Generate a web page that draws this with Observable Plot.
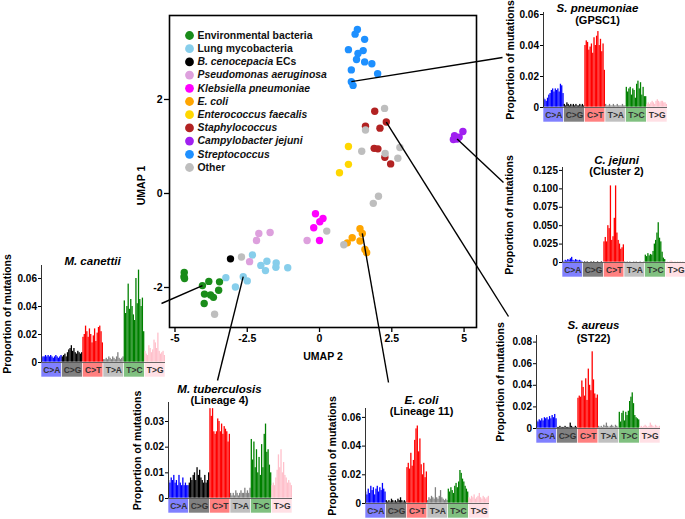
<!DOCTYPE html>
<html>
<head>
<meta charset="utf-8">
<script src="https://cdn.jsdelivr.net/npm/d3@7"></script>
<script src="https://cdn.jsdelivr.net/npm/@observablehq/plot@0.6"></script>
<style>
  html, body { margin: 0; padding: 0; background: white; }
  #fig { position: relative; width: 685px; height: 519px; overflow: hidden; background: white; }
  #fig svg { position: absolute; max-width: none; }
</style>
</head>
<body>
<div id="fig"></div>
<script>
// ---------------- DATA ----------------
const categories = ["Environmental bacteria", "Lung mycobacteria", "B. cenocepacia ECs", "Pseudomonas aeruginosa",
  "Klebsiella pneumoniae", "E. coli", "Enterococcus faecalis", "Staphylococcus", "Campylobacter jejuni", "Streptococcus", "Other"];
const categoryColors = ["#1a8c1a", "#87ceeb", "#000000", "#dda0dd", "#ff00ff", "#ffa500", "#ffd700", "#b22222", "#a020f0", "#1e90ff", "#bebebe"];
const italicCategories = ["Pseudomonas aeruginosa", "Klebsiella pneumoniae", "E. coli", "Enterococcus faecalis", "Staphylococcus", "Campylobacter jejuni", "Streptococcus"];

// UMAP coordinates [UMAP 2, UMAP 1]
const environmental = [[-4.68,-1.68],[-4.69,-1.77],[-4.67,-1.81],[-4.05,-1.96],[-3.83,-1.87],[-3.46,-1.88],[-3.49,-2.06],[-3.98,-2.14],[-3.77,-2.16],[-3.67,-2.21],[-3.99,-2.34]];
const lungMyco = [[-2.32,-1.31],[-1.82,-1.44],[-1.50,-1.48],[-2.03,-1.53],[-1.87,-1.64],[-1.51,-1.57],[-1.10,-1.58],[-3.24,-1.79],[-2.91,-1.99],[-2.64,-1.77],[-2.50,-1.86]];
const bCenocepacia = [[-3.08,-1.39]];
const pseudomonas = [[-2.10,-0.85],[-1.71,-0.83],[-2.18,-1.00],[-0.43,-1.00],[-2.42,-1.45]];
const klebsiella = [[-0.14,-0.43],[0.12,-0.53],[0.01,-0.60],[-0.20,-0.73],[0.00,-1.00]];
const eColi = [[1.40,-0.75],[1.48,-0.85],[1.13,-0.94],[1.40,-1.01],[0.96,-1.05],[1.57,-1.19],[1.63,-1.26]];
const enterococcus = [[1.00,1.00],[1.00,0.62],[0.69,0.44]];
const staphylococcus = [[1.91,1.75],[2.31,1.52],[1.59,1.43],[2.09,1.39],[1.89,0.96],[2.02,0.95],[2.26,0.77],[2.46,0.63]];
const campylobacter = [[4.67,1.23],[4.96,1.32],[4.76,1.16],[4.63,1.15],[4.83,1.20]];
const streptococcus = [[1.31,3.49],[1.23,3.39],[1.56,3.28],[1.00,3.06],[1.51,3.04],[1.33,2.98],[1.28,2.85],[1.56,2.80],[1.81,2.76],[1.10,2.63],[2.01,2.55],[1.10,2.38],[1.16,2.30]];
const other = [[2.25,1.81],[1.59,1.35],[1.46,0.90],[2.27,0.85],[2.78,0.98],[2.71,0.75],[2.04,-0.06],[1.86,-0.21],[0.25,-0.80],[0.84,-1.09],[-2.70,-1.35],[-3.63,-2.57]];
const pointSets = [environmental, lungMyco, bCenocepacia, pseudomonas, klebsiella, eColi, enterococcus, staphylococcus, campylobacter, streptococcus, other];

const umapXTicks = [-5, -2.5, 0, 2.5, 5];
const umapYTicks = [-2, 0, 2];

// Mutational spectra: 96 contexts, 16 per mutation type
const mutationTypes = ["C>A", "C>G", "C>T", "T>A", "T>C", "T>G"];
const barColors = ["#0000ff", "#000000", "#ff0000", "#808080", "#008000", "#ffc0cb"];
const boxColors = ["#8080ff", "#808080", "#ff8080", "#c0c0c0", "#80c080", "#ffe0e5"];

const sPneumoniae = [
  0.006,0.005,0.004,0.006,0.008,0.009,0.011,0.012,0.010,0.012,0.011,0.012,0.010,0.015,0.014,0.009,
  0.002,0.001,0.003,0.002,0.001,0.002,0.001,0.002,0.001,0.002,0.001,0.001,0.002,0.001,0.002,0.001,
  0.040,0.043,0.042,0.037,0.039,0.041,0.035,0.045,0.040,0.046,0.049,0.040,0.044,0.036,0.041,0.024,
  0.002,0.001,0.001,0.002,0.001,0.001,0.002,0.001,0.001,0.002,0.001,0.001,0.001,0.002,0.001,0.001,
  0.013,0.010,0.012,0.013,0.008,0.012,0.011,0.006,0.015,0.017,0.012,0.016,0.008,0.013,0.007,0.007,
  0.002,0.003,0.002,0.003,0.004,0.003,0.002,0.004,0.005,0.004,0.003,0.004,0.004,0.003,0.003,0.002];
const cJejuni = [
  0.002,0.001,0.003,0.002,0.004,0.003,0.005,0.007,0.003,0.002,0.004,0.003,0.002,0.003,0.002,0.001,
  0.000,0.001,0.000,0.001,0.000,0.000,0.001,0.000,0.001,0.000,0.000,0.001,0.000,0.000,0.001,0.000,
  0.028,0.034,0.028,0.050,0.046,0.104,0.030,0.035,0.060,0.104,0.040,0.030,0.025,0.018,0.020,0.024,
  0.001,0.000,0.001,0.000,0.001,0.000,0.000,0.001,0.000,0.001,0.000,0.000,0.001,0.000,0.000,0.001,
  0.010,0.008,0.012,0.009,0.011,0.010,0.015,0.025,0.030,0.040,0.054,0.033,0.028,0.014,0.006,0.004,
  0.000,0.001,0.000,0.001,0.002,0.001,0.000,0.001,0.000,0.001,0.000,0.001,0.000,0.001,0.000,0.000];
const sAureus = [
  0.007,0.006,0.008,0.007,0.009,0.007,0.010,0.009,0.010,0.008,0.011,0.009,0.012,0.010,0.013,0.009,
  0.001,0.001,0.002,0.001,0.001,0.001,0.002,0.001,0.001,0.001,0.005,0.002,0.001,0.001,0.002,0.001,
  0.028,0.030,0.029,0.044,0.038,0.030,0.046,0.026,0.055,0.040,0.035,0.071,0.045,0.032,0.028,0.031,
  0.002,0.001,0.002,0.001,0.003,0.002,0.005,0.002,0.001,0.002,0.003,0.002,0.001,0.003,0.002,0.001,
  0.015,0.006,0.014,0.016,0.007,0.015,0.012,0.016,0.025,0.029,0.033,0.023,0.012,0.010,0.009,0.008,
  0.001,0.002,0.001,0.002,0.003,0.002,0.001,0.002,0.005,0.003,0.002,0.001,0.003,0.002,0.001,0.002];
const mCanettii = [
  0.003,0.004,0.004,0.005,0.004,0.005,0.004,0.005,0.004,0.003,0.004,0.005,0.004,0.003,0.004,0.005,
  0.004,0.005,0.006,0.004,0.007,0.009,0.010,0.012,0.008,0.010,0.007,0.006,0.008,0.007,0.006,0.007,
  0.018,0.020,0.026,0.022,0.018,0.024,0.020,0.014,0.019,0.024,0.015,0.021,0.025,0.026,0.022,0.014,
  0.002,0.002,0.003,0.002,0.004,0.003,0.002,0.004,0.003,0.002,0.004,0.007,0.003,0.002,0.003,0.004,
  0.044,0.035,0.040,0.056,0.038,0.045,0.040,0.034,0.030,0.060,0.042,0.066,0.045,0.040,0.046,0.022,
  0.008,0.006,0.005,0.012,0.010,0.007,0.009,0.016,0.014,0.010,0.021,0.008,0.006,0.007,0.008,0.005];
const mTuberculosis = [
  0.007,0.006,0.008,0.007,0.009,0.006,0.007,0.005,0.009,0.006,0.005,0.008,0.005,0.006,0.005,0.005,
  0.006,0.008,0.007,0.009,0.010,0.007,0.012,0.009,0.011,0.008,0.007,0.006,0.009,0.006,0.007,0.010,
  0.035,0.032,0.035,0.026,0.025,0.026,0.031,0.030,0.026,0.029,0.025,0.028,0.027,0.026,0.022,0.025,
  0.002,0.001,0.002,0.001,0.003,0.002,0.001,0.002,0.003,0.002,0.002,0.004,0.002,0.003,0.002,0.004,
  0.023,0.015,0.022,0.012,0.019,0.010,0.016,0.009,0.021,0.012,0.025,0.029,0.018,0.019,0.013,0.010,
  0.005,0.006,0.005,0.008,0.011,0.017,0.012,0.019,0.010,0.014,0.009,0.008,0.006,0.007,0.006,0.005];
const eColiL11 = [
  0.008,0.006,0.010,0.007,0.012,0.009,0.011,0.006,0.010,0.012,0.008,0.011,0.009,0.014,0.010,0.008,
  0.002,0.001,0.002,0.001,0.003,0.002,0.001,0.002,0.001,0.003,0.002,0.004,0.002,0.001,0.002,0.001,
  0.025,0.028,0.024,0.035,0.026,0.030,0.044,0.052,0.054,0.036,0.045,0.027,0.020,0.028,0.018,0.022,
  0.002,0.004,0.003,0.005,0.004,0.003,0.011,0.004,0.003,0.005,0.009,0.004,0.003,0.002,0.003,0.002,
  0.010,0.008,0.011,0.009,0.007,0.012,0.014,0.011,0.015,0.023,0.021,0.017,0.015,0.012,0.010,0.008,
  0.004,0.003,0.005,0.004,0.006,0.003,0.004,0.005,0.007,0.004,0.003,0.005,0.004,0.003,0.004,0.005];

const insetTitles = [["S. pneumoniae", "(GPSC1)"], ["C. jejuni", "(Cluster 2)"], ["S. aureus", "(ST22)"], ["M. canettii", ""], ["M. tuberculosis", "(Lineage 4)"], ["E. coli", "(Lineage 11)"]];
const insetTicks = [[0, 0.02, 0.04, 0.06], [0, 0.025, 0.05, 0.075, 0.1, 0.125], [0, 0.02, 0.04, 0.06, 0.08], [0, 0.02, 0.04, 0.06], [0, 0.01, 0.02, 0.03], [0, 0.02, 0.04, 0.06]];
const insetDecimals = [2, 3, 2, 2, 2, 2];
const insetValues = [sPneumoniae, cJejuni, sAureus, mCanettii, mTuberculosis, eColiL11];
const insetYMax = [0.0613, 0.129, 0.0861, 0.0693, 0.0374, 0.0662];
const yLabel = "Proportion of mutations";

// ---------------- LAYOUT (pixels) ----------------
const FONT = '"Liberation Sans", Arial, Helvetica, sans-serif';
const fig = document.getElementById("fig");

const mainFrame = {left: 169, right: 476, top: 15, bottom: 327};
const mainMargins = {left: 45, right: 10, top: 15, bottom: 40};
const xDomain = [-5.19, 5.43], yDomain = [-2.851, 3.787];

// inset layout: axis x, baseline y, frame height, title offsets, y-label offset
const insetLayout = [
  {ax: 543, y0: 107, h: 95, tdx: -8, t1: -4, t2: 8, ldx: -33},
  {ax: 562, y0: 262, h: 95, tdx: -8, t1: -7, t2: 4, ldx: -53},
  {ax: 536, y0: 428, h: 93, tdx: -5, t1: -10, t2: 3, ldx: -36},
  {ax: 41, y0: 362, h: 97, tdx: -11, t1: -4, t2: 0, ldx: -34},
  {ax: 168, y0: 498, h: 96, tdx: -11, t1: -13, t2: -2, ldx: -31},
  {ax: 365, y0: 503, h: 95, tdx: -6, t1: -8, t2: 3, ldx: -33}
];
const insetW = 124;

// connectors: [category index, point index] -> end pixel
const connectors = [
  {cat: 9, idx: 11, end: [502, 57]},
  {cat: 8, idx: 2, end: [503, 182]},
  {cat: 7, idx: 1, end: [508, 316]},
  {cat: 5, idx: 1, end: [388, 382]},
  {cat: 1, idx: 9, end: [217, 380]},
  {cat: 0, idx: 3, end: [161, 303]}
];

// ---------------- MAIN UMAP PLOT ----------------
const points = [];
pointSets.forEach((set, ci) => set.forEach(([x, y]) => points.push({x, y, color: categoryColors[ci]})));

const fw = mainFrame.right - mainFrame.left, fh = mainFrame.bottom - mainFrame.top;
const pxX = fw / (xDomain[1] - xDomain[0]), pxY = fh / (yDomain[1] - yDomain[0]);
const legendRows = categories.map((label, i) => ({
  label, color: categoryColors[i], italic: italicCategories.includes(label),
  y: yDomain[1] - (20 + i * 13.2) / pxY
}));
const legendDotX = xDomain[0] + 20 / pxX, legendTextX = xDomain[0] + 28 / pxX;
// axis title anchors (from pixel offsets relative to the frame)
const yTitleX = xDomain[0] - 28 / pxX, yTitleY = yDomain[1] - (185 - mainFrame.top) / pxY;

const main = Plot.plot({
  width: mainMargins.left + fw + mainMargins.right,
  height: mainMargins.top + fh + mainMargins.bottom,
  marginLeft: mainMargins.left, marginRight: mainMargins.right, marginTop: mainMargins.top, marginBottom: mainMargins.bottom,
  x: {domain: xDomain},
  y: {domain: yDomain},
  style: {background: "transparent", fontFamily: FONT, fontSize: "11px", color: "black", overflow: "visible"},
  marks: [
    Plot.axisX({ticks: umapXTicks, tickFormat: d => String(d), tickSize: 5, tickPadding: 2, fontWeight: "bold", fontSize: 10.5, label: null, strokeWidth: 1.3}),
    Plot.axisY({ticks: umapYTicks, tickFormat: d => String(d), tickSize: 5, tickPadding: 2, fontWeight: "bold", fontSize: 10.5, label: null, strokeWidth: 1.3}),
    Plot.dot(points, {x: "x", y: "y", r: 3.7, fill: "color", stroke: null}),
    Plot.frame({stroke: "black", strokeWidth: 1.6}),
    Plot.dot(legendRows, {x: () => legendDotX, y: "y", r: 4.4, fill: "color"}),
    Plot.text(legendRows.filter(d => !d.italic), {x: () => legendTextX, y: "y", text: "label", textAnchor: "start", fontSize: 10.4, fontWeight: "bold", fill: "#111"}),
    Plot.text(legendRows.filter(d => d.italic), {x: () => legendTextX, y: "y", text: "label", textAnchor: "start", fontSize: 10.4, fontWeight: "bold", fontStyle: "italic", fill: "#111"}),
    Plot.text(["UMAP 2"], {frameAnchor: "bottom", dy: 29, lineAnchor: "middle", textAnchor: "middle", fontSize: 10.5, fontWeight: "bold"}),
    Plot.text(["UMAP 1"], {x: () => yTitleX, y: () => yTitleY, rotate: -90, textAnchor: "middle", lineAnchor: "middle", fontSize: 10.5, fontWeight: "bold"})
  ]
});
main.style.left = (mainFrame.left - mainMargins.left) + "px";
main.style.top = (mainFrame.top - mainMargins.top) + "px";
d3.select(main).selectAll("text").filter(function () { return this.textContent === "B. cenocepacia ECs"; })
  .each(function () {
    const t = d3.select(this); t.text(null);
    t.append("tspan").attr("font-style", "italic").text("B. cenocepacia");
    t.append("tspan").attr("font-style", "normal").text(" ECs");
  });
fig.appendChild(main);

// ---------------- INSETS ----------------
function makeInset(k) {
  const L = insetLayout[k], values = insetValues[k], top = insetYMax[k];
  const m = {left: 62, right: 4, top: 32, bottom: 18};
  const bars = values.map((v, i) => ({i, v, color: barColors[Math.floor(i / 16)]}));
  const pxPerUnit = L.h / top;
  const boxH = 15 / pxPerUnit;
  const groups = mutationTypes.map((t, g) => ({t, g, fill: boxColors[g]}));
  const dec = insetDecimals[k];
  const [t1, t2] = insetTitles[k];
  const p = Plot.plot({
    width: m.left + insetW + m.right, height: m.top + L.h + m.bottom,
    marginLeft: m.left, marginRight: m.right, marginTop: m.top, marginBottom: m.bottom,
    x: {domain: [0, 96], axis: null},
    y: {domain: [0, top], axis: null},
    style: {background: "transparent", fontFamily: FONT, fontSize: "10px", color: "black", overflow: "visible"},
    marks: [
      Plot.rect(bars, {x1: "i", x2: d => d.i + 1, y1: () => 0, y2: "v", fill: "color"}),
      Plot.rect(groups, {x1: d => d.g * 16, x2: d => d.g * 16 + 16, y1: () => -boxH, y2: () => 0, fill: "fill", stroke: "white", strokeWidth: 0.6}),
      Plot.text(groups, {x: d => d.g * 16 + 8, y: () => -boxH / 2, text: "t", fontSize: 8.5, fontWeight: "bold", fill: "#333"}),
      Plot.ruleY([0], {x1: 0, x2: 96, stroke: "#444", strokeWidth: 0.8}),
      Plot.ruleX([0], {y1: 0, y2: top, stroke: "#333", strokeWidth: 1}),
      Plot.axisY({ticks: insetTicks[k], tickFormat: d => d === 0 ? "0" : d.toFixed(dec), tickSize: 3, tickPadding: 1.5, fontWeight: "bold", fontSize: 10, label: null}),
      Plot.text([yLabel], {frameAnchor: "left", dx: L.ldx, rotate: -90, textAnchor: "middle", lineAnchor: "middle", fontSize: 10.5, fontWeight: "bold"}),
      Plot.text([t1], {frameAnchor: "top", dx: L.tdx, dy: L.t1, lineAnchor: "middle", textAnchor: "middle", fontSize: 11.5, fontWeight: "bold", fontStyle: "italic"}),
      t2 ? Plot.text([t2], {frameAnchor: "top", dx: L.tdx, dy: L.t2, lineAnchor: "middle", textAnchor: "middle", fontSize: 11, fontWeight: "bold"}) : null
    ]
  });
  p.style.left = (L.ax - m.left) + "px";
  p.style.top = (L.y0 - L.h - m.top) + "px";
  fig.appendChild(p);
}
for (let k = 0; k < insetLayout.length; k++) makeInset(k);

// ---------------- CONNECTORS ----------------
const sx = main.scale("x"), sy = main.scale("y");
const offX = mainFrame.left - mainMargins.left, offY = mainFrame.top - mainMargins.top;
const links = connectors.map(c => {
  const [vx, vy] = pointSets[c.cat][c.idx];
  return {x1: sx.apply(vx) + offX, y1: sy.apply(vy) + offY, x2: c.end[0], y2: c.end[1]};
});
const overlay = Plot.plot({
  width: 685, height: 519, margin: 0,
  x: {domain: [0, 685], range: [0, 685], axis: null},
  y: {domain: [0, 519], range: [0, 519], axis: null},
  style: {background: "transparent", overflow: "visible"},
  marks: [Plot.link(links, {x1: "x1", y1: "y1", x2: "x2", y2: "y2", stroke: "black", strokeWidth: 1.4})]
});
overlay.style.left = "0px"; overlay.style.top = "0px";
fig.appendChild(overlay);
</script>
</body>
</html>
